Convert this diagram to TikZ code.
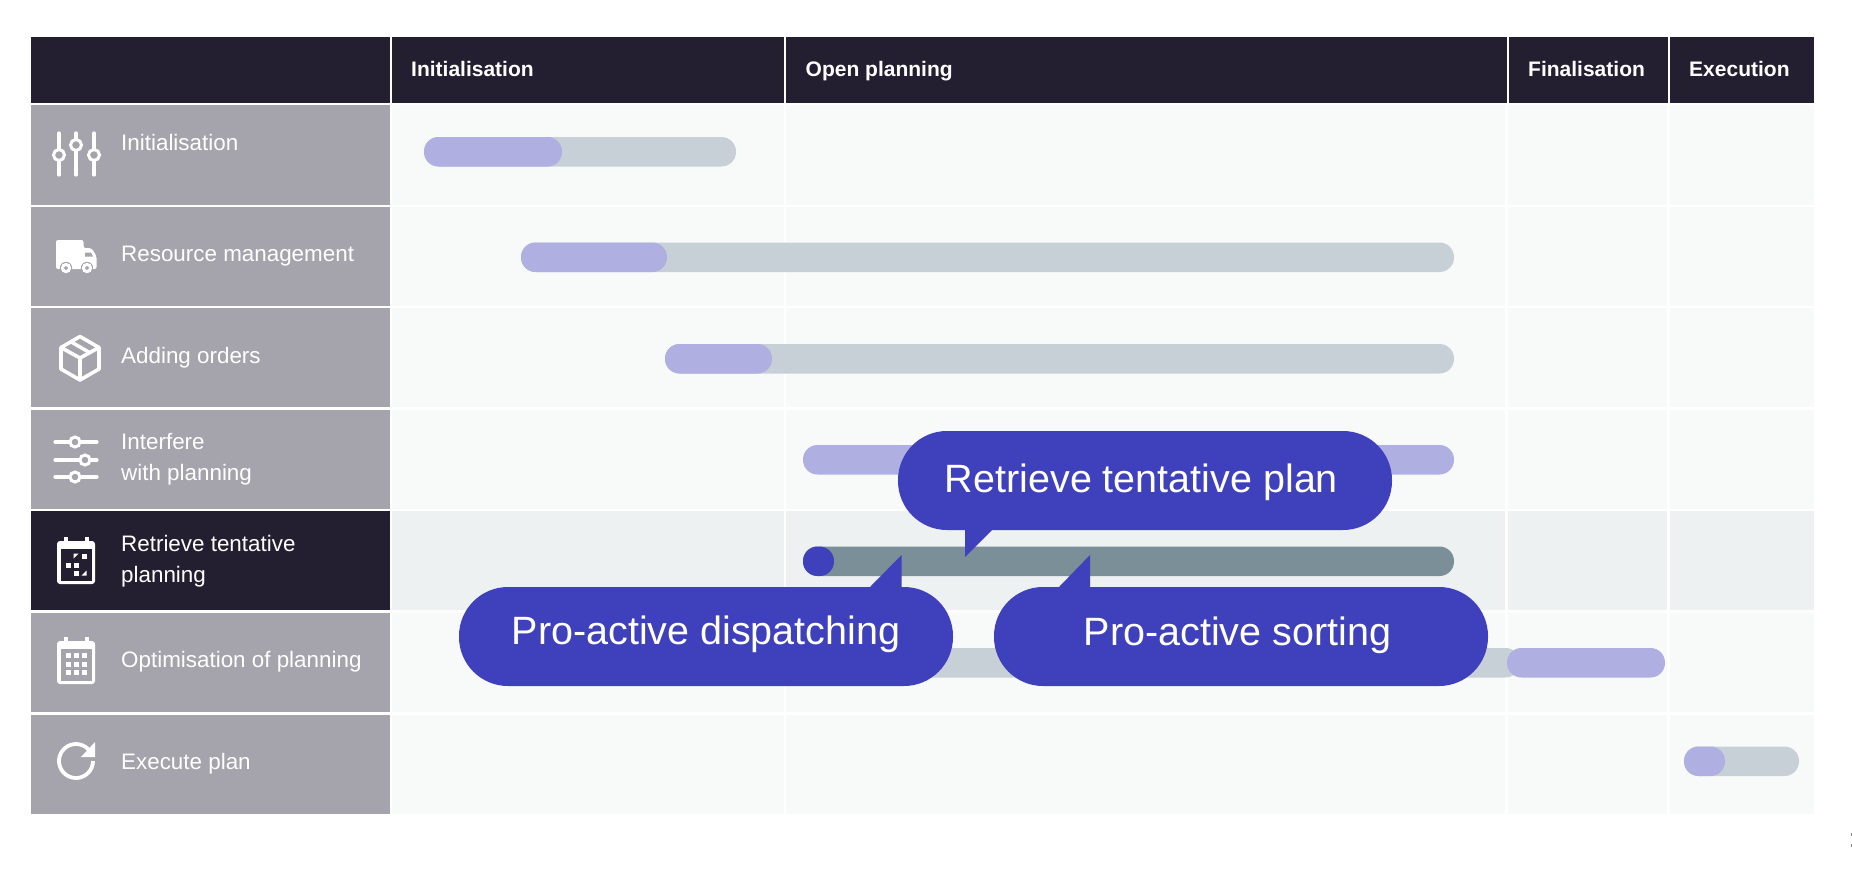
\documentclass[tikz,border=0pt]{standalone}
\usepackage{fontspec}
\setmainfont{Liberation Sans}
\definecolor{headdark}{HTML}{231F30}
\definecolor{rowgray}{HTML}{A5A3AB}
\definecolor{cellpale}{HTML}{F8FAF9}
\definecolor{cellhigh}{HTML}{EEF1F2}
\definecolor{barlav}{HTML}{B0AFE2}
\definecolor{bargray}{HTML}{C7D0D6}
\definecolor{bardark}{HTML}{7B8F99}
\definecolor{pillblue}{HTML}{3E40BC}
\tikzset{
  headtext/.style={anchor=base west,inner sep=0,text=white,font=\fontsize{21}{25}\selectfont\bfseries},
  rowtext/.style={anchor=base west,inner sep=0,text=white,align=left,font=\fontsize{22.4}{31.5}\selectfont},
  pill/.style={fill=pillblue,text=white,inner sep=0,minimum width=494pt,minimum height=99pt,rounded corners=49pt,
    text height=30pt,text depth=15pt,font=\fontsize{39.5}{46}\selectfont},
  iconline/.style={draw=white,line width=3.2pt,line cap=round},
  knob/.style={draw=white,line width=3pt,fill=rowgray},
}
\begin{document}
\begin{tikzpicture}[x=1pt,y=-1pt]
\useasboundingbox (0,0) rectangle (1852,868);
\foreach \xa/\xb in {31/389.7,391.7/784,786/1506.7,1508.7/1667.7,1669.7/1814}
  \fill [headdark] (\xa,37) rectangle (\xb,102.7);
\foreach \ya/\yb/\rowfill in {105/204.5/rowgray,207/306/rowgray,308/407/rowgray,410/509/rowgray,511/610/headdark,613/712/rowgray,715/814/rowgray}
  \fill [\rowfill] (31,\ya) rectangle (390,\yb);
\foreach \ya/\yb/\cellfill in {105/204.5/cellpale,207/306/cellpale,308/407/cellpale,410/509/cellpale,511/610/cellhigh,613/712/cellpale,715/814/cellpale}
  \foreach \xa/\xb in {392/783.5,786/1505,1508/1667,1669.5/1814}
    \fill [\cellfill] (\xa,\ya) rectangle (\xb,\yb);

\node [headtext] (headinit) at (411,76) {Initialisation};
\node [headtext] (headopen) at (805.5,76) {Open planning};
\node [headtext] (headfinal) at (1528,76) {Finalisation};
\node [headtext] (headexec) at (1689,76) {Execution};

\node [rowtext] (rowinit) at (121,150.5) {Initialisation};
\node [rowtext] (rowres) at (121,261.5) {Resource management};
\node [rowtext] (rowadd) at (121,363.5) {Adding orders};
\node [rowtext] (rowinter) at (121,480.5) {Interfere\\with planning};
\node [rowtext] (rowtent) at (121,582.5) {Retrieve tentative\\planning};
\node [rowtext] (rowopt) at (121,667.5) {Optimisation of planning};
\node [rowtext] (rowrun) at (121,769.5) {Execute plan};

\foreach \xa/\xb/\ya in {424/736/137,521/1454/242.5,665/1454/344,803/1520/648,1684/1799/746.5}
  \fill [bargray,rounded corners=14.5pt] (\xa,\ya) rectangle (\xb,\ya+29.5);
\foreach \xa/\xb/\ya in {424/562/137,521/667/242.5,665/772/344,803/1454/445,1507/1665/648,1684/1725/746.5}
  \fill [barlav,rounded corners=14.5pt] (\xa,\ya) rectangle (\xb,\ya+29.5);
\fill [bardark,rounded corners=14.5pt] (803,546.5) rectangle (1454,576);
\fill [pillblue,rounded corners=14.5pt] (803,546.5) rectangle (834,576);

\node [pill,text height=30pt,text depth=7pt] (pillplan) at (1145,480.5) {\hspace*{-7pt}Retrieve tentative plan};
\node [pill] (pilldisp) at (706,636.5) {Pro-active dispatching};
\node [pill,text depth=13pt] (pillsort) at (1241,636.5) {\hspace*{-7pt}Pro-active sorting};
\fill [pillblue] (965,528) -- (965,557) -- (992,530) -- (992,528) -- cycle;
\fill [pillblue] (870,589) -- (870,587) -- (901.5,555) -- (901.5,589) -- cycle;
\fill [pillblue] (1059,589) -- (1059,587) -- (1090,555) -- (1090,589) -- cycle;

\foreach \x/\yk in {59/155,76/145,94/155} {
  \draw [iconline] (\x,133) -- (\x,175);
  \draw [knob] (\x,\yk) circle [radius=5.5pt];
}

\fill [white,rounded corners=2pt] (56,240) -- (83.5,240) -- (83.5,248) -- (91.5,248) -- (96.5,256) -- (96.5,269) -- (56,269) -- cycle;
\fill [rowgray] (85,252.5) -- (91,252.5) -- (93,256.5) -- (85,256.5) -- cycle;
\foreach \x in {66,87} {
  \fill [rowgray] (\x,268) circle [radius=6.2pt];
  \draw [white,line width=3pt,fill=rowgray] (\x,268) circle [radius=3.6pt];
}

\draw [draw=white,line width=3.6pt,line join=round] (80,336.5) -- (99,347.5) -- (99,369) -- (80,380) -- (61,369) -- (61,347.5) -- cycle;
\draw [draw=white,line width=3.6pt,line join=round] (61,347.5) -- (80,358) -- (99,347.5) (80,358) -- (80,380);
\draw [draw=white,line width=3.5pt] (70.5,341.5) -- (89.5,352.5);

\foreach \yk/\x in {442/75,460/85,477/75} {
  \draw [iconline] (55,\yk) -- (97,\yk);
  \draw [knob] (\x,\yk) circle [radius=5pt];
}

\fill [white,rounded corners=3pt] (57,541) rectangle (95,584);
\fill [headdark] (60.5,549) rectangle (91.5,580.5);
\foreach \x in {66,87} \draw [iconline,line width=4pt,line cap=butt] (\x,537) -- (\x,543);
\foreach \x/\y in {68/565,76/565,84/556,76/573}
  \fill [white] (\x-2.5,\y-2.5) rectangle (\x+2.5,\y+2.5);
\fill [white] (73.5,558.5) -- (73.5,553.5) -- (78.5,553.5) -- cycle;
\fill [white] (86.5,570.5) -- (86.5,575.5) -- (81.5,575.5) -- cycle;

\fill [white,rounded corners=3pt] (57,641) rectangle (95,684);
\fill [rowgray] (60.5,649) rectangle (91.5,680.5);
\foreach \x in {66,87} \draw [iconline,line width=4pt,line cap=butt] (\x,637) -- (\x,643);
\foreach \x in {68,76,84}
  \foreach \y in {655,664,672}
    \fill [white] (\x-2.5,\y-2.5) rectangle (\x+2.5,\y+2.5);

\draw [draw=white,line width=3.8pt] (76,761) ++(42:17pt) arc [start angle=42,end angle=360,radius=17pt];
\fill [white] (95,742) -- (95,757) -- (81,757) -- cycle;

\fill [gray] (1850.5,832.5) rectangle (1852,836);
\fill [gray] (1850.5,843.5) rectangle (1852,847);
\end{tikzpicture}
\end{document}
